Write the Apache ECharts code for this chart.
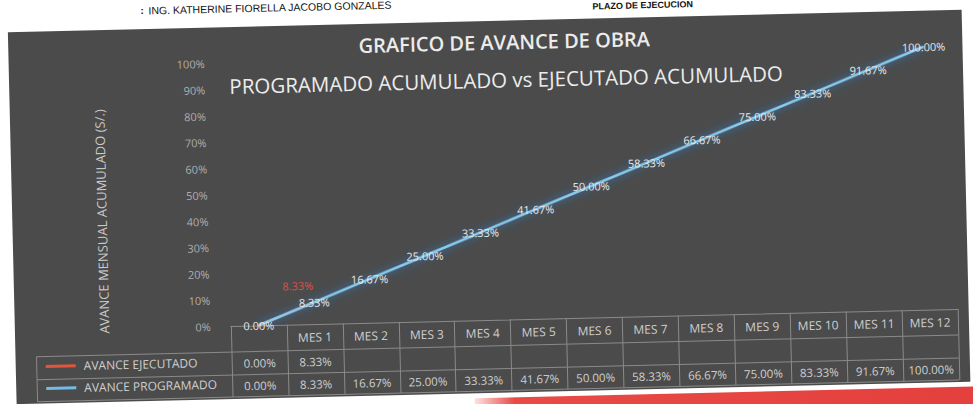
<!DOCTYPE html>
<html>
<head>
<meta charset="utf-8">
<title>Grafico de avance de obra</title>
<script src="https://cdn.jsdelivr.net/npm/echarts@6/dist/echarts.min.js"></script>
<style>
  html, body { margin: 0; padding: 0; background: #ffffff; overflow: hidden; }
  body { width: 973px; height: 404px; position: relative; }
  /* the printed sheet sits slightly tilted */
  #chart {
    position: absolute; left: -20px; top: -40px;
    width: 1013px; height: 484px;
    transform: rotate(-1.35deg);
    transform-origin: 506.5px 242px;
  }
</style>
</head>
<body>
<div id="chart"></div>
<script>
// ---- data ----
const categories = ['', 'MES 1', 'MES 2', 'MES 3', 'MES 4', 'MES 5', 'MES 6',
                    'MES 7', 'MES 8', 'MES 9', 'MES 10', 'MES 11', 'MES 12'];
const ejecutado  = [0.00, 8.33];
const programado = [0.00, 8.33, 16.67, 25.00, 33.33, 41.67, 50.00,
                    58.33, 66.67, 75.00, 83.33, 91.67, 100.00];
const yTicks = { min: 0, max: 100, step: 10 };

const seriesNames = ['AVANCE EJECUTADO', 'AVANCE PROGRAMADO'];
const titleText = 'GRAFICO DE AVANCE DE OBRA';
const subtitleText = 'PROGRAMADO ACUMULADO vs EJECUTADO ACUMULADO';
const yName = 'AVANCE MENSUAL ACUMULADO (S/.)';
const headerName = 'ING. KATHERINE FIORELLA JACOBO GONZALES';
const headerTerm = 'PLAZO DE EJECUCION';

// ---- layout (page coordinates, shifted into the oversized canvas) ----
const W = 1013, H = 484, OX = 20, OY = 40;
const P = x => x + OX, Q = y => y + OY;
const plotL = 228, plotR = 955, plotT = 57, plotB = 320;
const rowHeader = 26, rowEj = 23, rowProg = 22;
const tableBottom = plotB + rowHeader + rowEj + rowProg;
const legendColL = 33;
const panel = { x: 12, y: 21, w: 954, h: 372 };

const fmt = v => v.toFixed(2) + '%';
const cellsFrom = arr => categories.map((c, i) => (i < arr.length ? fmt(arr[i]) : ''));

const FONT = '"Open Sans", "Noto Sans", sans-serif';
const NARROW = '"Liberation Sans Narrow", "Liberation Sans", sans-serif';
const gridLineColor = '#8a8a8a';
const cellText = '#cfcfcf';

const chart = echarts.init(document.getElementById('chart'), null, { renderer: 'svg', width: W, height: H });

const hLine = (x1, x2, y) => ({
  type: 'line', z: -5,
  shape: { x1: P(x1), y1: Q(y), x2: P(x2), y2: Q(y) },
  style: { stroke: gridLineColor, lineWidth: 1 }
});

chart.setOption({
  backgroundColor: 'transparent',
  animation: false,
  textStyle: { fontFamily: FONT },
  legend: [
    { data: [seriesNames[0]], left: P(42), top: Q(plotB + rowHeader + 4), icon: 'rect',
      itemWidth: 30, itemHeight: 3, padding: 0, selectedMode: false,
      textStyle: { color: cellText, fontSize: 12, padding: [0, 0, 0, 3] } },
    { data: [seriesNames[1]], left: P(42), top: Q(plotB + rowHeader + rowEj + 3), icon: 'rect',
      itemWidth: 30, itemHeight: 3, padding: 0, selectedMode: false,
      textStyle: { color: cellText, fontSize: 12, padding: [0, 0, 0, 3] } }
  ],
  grid: { left: P(plotL), right: W - P(plotR), top: Q(plotT), bottom: H - Q(plotB), containLabel: false },
  xAxis: [
    { type: 'category', data: categories, boundaryGap: true, position: 'bottom',
      axisLine: { show: true, lineStyle: { color: gridLineColor, width: 1 } },
      axisTick: { show: true, interval: 0, length: tableBottom - plotB,
                  lineStyle: { color: gridLineColor, width: 1 } },
      axisLabel: { interval: 0, color: cellText, fontSize: 12, margin: rowHeader / 2, verticalAlign: 'middle' },
      splitLine: { show: false } },
    { type: 'category', data: cellsFrom(ejecutado), boundaryGap: true, position: 'bottom',
      offset: rowHeader,
      axisLine: { show: false }, axisTick: { show: false },
      axisLabel: { interval: 0, color: cellText, fontSize: 11.5, margin: rowEj / 2, verticalAlign: 'middle' } },
    { type: 'category', data: cellsFrom(programado), boundaryGap: true, position: 'bottom',
      offset: rowHeader + rowEj,
      axisLine: { show: false }, axisTick: { show: false },
      axisLabel: { interval: 0, color: cellText, fontSize: 11.5, margin: rowProg / 2, verticalAlign: 'middle' } }
  ],
  yAxis: {
    type: 'value', min: yTicks.min, max: yTicks.max, interval: yTicks.step,
    axisLine: { show: false }, axisTick: { show: false }, splitLine: { show: false },
    axisLabel: { formatter: '{value}%', color: '#aeaeae', fontSize: 11, margin: 20 },
    name: yName, nameLocation: 'middle', nameGap: 120,
    nameTextStyle: { color: '#c8c8c8', fontSize: 13, padding: [0, 48, 0, 0] }
  },
  series: [
    { name: seriesNames[0], type: 'line', xAxisIndex: 0,
      data: ejecutado.map((v, i) => ({ value: v, label: { show: i === ejecutado.length - 1 } })),
      color: '#e2553a', symbol: 'circle', symbolSize: 1, z: 2,
      lineStyle: { color: '#e2553a', width: 2.5 },
      label: { show: true, position: 'inside', offset: [-16, -17], color: '#d9534f', fontSize: 11,
               formatter: p => fmt(p.value) } },
    { name: seriesNames[1], type: 'line', xAxisIndex: 0, data: programado,
      color: '#6fbde8', symbol: 'circle', symbolSize: 1, z: 3,
      lineStyle: { color: '#86cdf0', width: 2.5, shadowBlur: 8, shadowColor: 'rgba(40,130,220,0.95)' },
      label: { show: true, position: 'inside', color: '#e8e8e8', fontSize: 11,
               formatter: p => fmt(p.value) } }
  ],
  graphic: [
    // dark chart panel
    { type: 'rect', z: -10, shape: { x: P(panel.x), y: Q(panel.y), width: panel.w, height: panel.h },
      style: { fill: '#4b4b4b' } },
    // chart titles
    { type: 'text', x: P(508), y: Q(42.5), z: 6,
      style: { text: titleText, fill: '#ececec', font: '600 20px ' + FONT,
               align: 'center', verticalAlign: 'middle' } },
    { type: 'text', x: P(509), y: Q(80), z: 6,
      style: { text: subtitleText, fill: '#ececec', font: '20.5px ' + FONT,
               align: 'center', verticalAlign: 'middle' } },
    // data-table borders in the legend column and row separators
    hLine(legendColL, plotR, plotB + rowHeader),
    hLine(legendColL, plotR, plotB + rowHeader + rowEj),
    hLine(legendColL, plotR, tableBottom),
    { type: 'line', z: -5,
      shape: { x1: P(legendColL), y1: Q(plotB + rowHeader), x2: P(legendColL), y2: Q(tableBottom) },
      style: { stroke: gridLineColor, lineWidth: 1 } },
    // sheet header above the chart
    { type: 'text', x: P(145), y: Q(2.5), z: 5,
      style: { text: ':', fill: '#111', font: 'bold 10px ' + NARROW, verticalAlign: 'middle' } },
    { type: 'text', x: P(153), y: Q(2.5), z: 5,
      style: { text: headerName, fill: '#111', font: '10.5px ' + NARROW, verticalAlign: 'middle' } },
    { type: 'text', x: P(597), y: Q(9), z: 5,
      style: { text: headerTerm, fill: '#111', font: 'bold 9px ' + NARROW, verticalAlign: 'middle' } },
    // red band at the foot of the sheet
    { type: 'rect', z: -10, shape: { x: P(470), y: Q(398), width: 500, height: 30 },
      style: { fill: new echarts.graphic.LinearGradient(0, 0, 1, 0, [
        { offset: 0, color: 'rgba(232,70,66,0.15)' }, { offset: 0.08, color: '#e84a45' },
        { offset: 1, color: '#e4403d' }]) } }
  ]
});
</script>
</body>
</html>
